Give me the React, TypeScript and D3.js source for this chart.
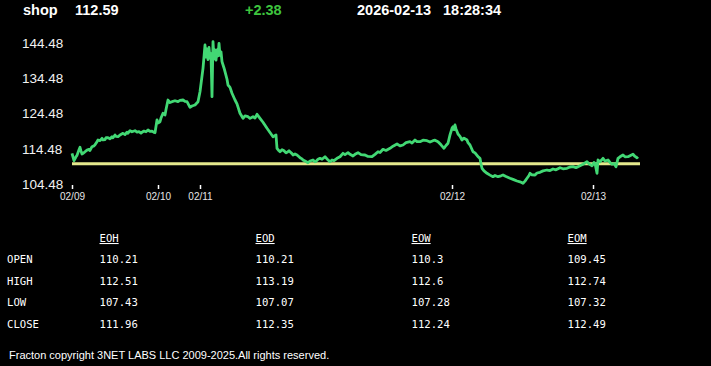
import React, { useRef, useEffect } from "react";
import * as d3 from "d3";

// header quote
const symbol = "shop";
const lastPrice = "112.59";
const change = "+2.38";
const quoteDate = "2026-02-13";
const quoteTime = "18:28:34";

// price trace: [sample index over the session, price]
const trace: [number, number][] = [
	[0, 113.19], [2, 111.09], [4, 112.2], [5, 112.6], [7, 114.2], [8, 114.89], [9, 113.8], [10, 112.99],
	[12, 113.4], [13, 113.64], [15, 114.1], [17, 114.3], [18, 114.0], [20, 115.06], [22, 115.3], [23, 115.6],
	[25, 116.5], [26, 116.96], [28, 116.8], [30, 117.44], [31, 117.0], [33, 117.1], [34, 117.6], [36, 117.61],
	[38, 117.3], [40, 117.9], [41, 117.6], [43, 118.38], [44, 118.0], [46, 117.9], [48, 118.4], [51, 118.86],
	[53, 118.5], [55, 119.2], [56, 118.9], [58, 119.6], [60, 119.3], [63, 119.6], [65, 119.2], [67, 119.35],
	[69, 118.9], [70, 119.15], [72, 119.5], [74, 119.3], [76, 119.8], [78, 119.4], [80, 119.5], [82, 119.1],
	[83, 119.03], [85, 122.64], [86, 121.8], [88, 122.15], [89, 123.2], [91, 124.54], [93, 124.05],
	[94, 125.6], [96, 128.31], [98, 127.6], [100, 127.83], [103, 128.1], [106, 127.83], [108, 128.2],
	[111, 128.31], [113, 127.9], [115, 127.83], [118, 126.24], [120, 126.6], [123, 126.89], [126, 127.83],
	[128, 130.66], [131, 137.3], [133, 143.91], [134, 140.5], [135, 142.8], [136, 139.8], [137, 143.2],
	[138, 140.2], [139, 141.5], [140, 129.25], [141, 144.85], [142, 140.0], [143, 142.5], [144, 139.6],
	[145, 142.5], [146, 140.8], [147, 144.39], [148, 141.0], [149, 142.0], [150, 139.18], [152, 137.4],
	[153, 136.34], [155, 134.2], [156, 132.57], [158, 131.9], [160, 130.21], [163, 128.31], [165, 127.2],
	[168, 124.54], [171, 123.12], [173, 123.8], [176, 123.57], [178, 123.1], [181, 123.57], [183, 123.2],
	[185, 124.25], [188, 123.12], [191, 122.0], [195, 120.28], [198, 119.1], [201, 117.9], [204, 118.38],
	[205, 114.61], [207, 113.9], [208, 113.64], [210, 114.2], [212, 113.9], [214, 113.3], [215, 113.47],
	[217, 113.9], [218, 113.64], [220, 113.1], [221, 112.71], [223, 113.0], [225, 112.71], [227, 112.2],
	[228, 111.94], [230, 111.6], [231, 111.29], [233, 111.0], [236, 110.52], [238, 111.0], [241, 111.29],
	[243, 110.8], [244, 110.9], [246, 111.5], [248, 111.77], [250, 111.5], [253, 112.22], [255, 111.6],
	[258, 110.81], [260, 111.3], [262, 111.1], [265, 111.77], [268, 112.2], [271, 113.19], [273, 112.8],
	[276, 113.36], [278, 112.9], [281, 112.42], [283, 112.9], [286, 113.36], [289, 112.8], [293, 112.71],
	[296, 112.3], [300, 112.22], [303, 112.9], [306, 113.64], [308, 113.4], [311, 114.32], [314, 114.0],
	[318, 114.61], [321, 115.2], [325, 115.83], [328, 115.3], [331, 115.54], [334, 116.2], [338, 116.48],
	[340, 116.1], [343, 116.96], [345, 116.5], [348, 116.48], [351, 116.9], [355, 116.76], [358, 116.4],
	[361, 116.76], [363, 116.9], [366, 116.48], [369, 115.6], [372, 114.61], [374, 115.4], [376, 116.03],
	[378, 118.4], [380, 120.28], [381, 120.74], [382, 119.9], [383, 121.22], [384, 120.1], [386, 118.66],
	[388, 118.0], [390, 116.96], [392, 117.5], [395, 116.96], [396, 116.2], [398, 115.54], [401, 113.64],
	[403, 113.3], [406, 112.22], [408, 111.77], [409, 110.2], [410, 108.93], [412, 108.2], [415, 107.52],
	[418, 107.0], [421, 106.55], [423, 106.9], [426, 106.55], [429, 106.8], [431, 107.03], [434, 106.6],
	[438, 106.1], [441, 105.8], [445, 105.33], [448, 105.1], [451, 104.68], [453, 105.3], [455, 106.1],
	[457, 106.9], [458, 107.52], [460, 107.1], [463, 107.03], [465, 107.6], [468, 107.8], [471, 108.2],
	[475, 108.45], [478, 108.3], [481, 108.74], [484, 108.5], [488, 109.1], [491, 108.8], [495, 108.93],
	[498, 109.3], [501, 109.39], [504, 109.1], [508, 109.67], [511, 110.1], [515, 110.81], [517, 110.2],
	[520, 109.67], [522, 110.6], [523, 110.35], [525, 107.52], [526, 111.29], [528, 110.8], [531, 111.77],
	[533, 111.0], [536, 111.29], [538, 110.6], [540, 110.07], [542, 110.3], [544, 109.39], [546, 111.77],
	[548, 112.2], [551, 112.71], [553, 112.2], [556, 112.22], [558, 112.5], [561, 112.91], [563, 112.3],
	[565, 111.94], [566, 112.22]
];

const baseline = 110.21;
const yTicks = [104.48, 114.48, 124.48, 134.48, 144.48];
const dayTicks = [0, 86, 128, 380, 521];
const dayLabels = ["02/09", "02/10", "02/11", "02/12", "02/13"];

// summary table
const columns = ["EOH", "EOD", "EOW", "EOM"];
const rowNames = ["OPEN", "HIGH", "LOW", "CLOSE"];
const eoh = ["110.21", "112.51", "107.43", "111.96"];
const eod = ["110.21", "113.19", "107.07", "112.35"];
const eow = ["110.3", "112.6", "107.28", "112.24"];
const eom = ["109.45", "112.74", "107.32", "112.49"];

const footer = "Fracton copyright 3NET LABS LLC 2009-2025.All rights reserved.";

const App = () => {
	const chartRef = useRef<SVGSVGElement>(null);

	useEffect(() => {
		document.body.style.margin = "0";
		document.body.style.background = "#000";

		const width = 711;
		const height = 366;
		const svg = d3.select(chartRef.current);
		svg.selectAll("*").remove();
		svg.attr("width", width).attr("height", height);

		svg.append("rect").attr("width", width).attr("height", height).attr("fill", "#000");

		// header
		const head = svg.append("g")
			.attr("font-family", "Liberation Sans, Arial, sans-serif")
			.attr("font-weight", "bold")
			.attr("font-size", 14.5)
			.attr("fill", "#fff");
		head.append("text").attr("x", 23).attr("y", 15).text(symbol);
		head.append("text").attr("x", 75).attr("y", 15).text(lastPrice);
		head.append("text").attr("x", 245).attr("y", 15).attr("fill", "#3ec43e").text(change);
		head.append("text").attr("x", 357).attr("y", 15).text(quoteDate);
		head.append("text").attr("x", 443).attr("y", 15).text(quoteTime);

		const x = d3.scaleLinear().domain([0, 568]).range([72, 640]);
		const y = d3.scaleLinear().domain([104.48, 144.48]).range([184, 43]);

		// y labels
		svg.append("g")
			.selectAll("text")
			.data(yTicks)
			.enter()
			.append("text")
			.attr("x", 22)
			.attr("y", d => y(d))
			.attr("dy", "0.36em")
			.attr("font-family", "Liberation Sans, Arial, sans-serif")
			.attr("font-size", 13.5)
			.attr("fill", "#f2f2f2")
			.text(d => d.toFixed(2));

		// x axis
		const xAxis = d3.axisBottom(x)
			.tickValues(dayTicks)
			.tickSize(4)
			.tickFormat((d, i) => dayLabels[i]);
		const gx = svg.append("g")
			.attr("transform", "translate(0,185)")
			.call(xAxis);
		gx.select(".domain").remove();
		gx.selectAll(".tick line").attr("stroke", "#fff").attr("stroke-width", 1.5);
		gx.selectAll(".tick text")
			.attr("fill", "#e6e6e6")
			.attr("y", 8)
			.attr("font-family", "Liberation Sans, Arial, sans-serif")
			.attr("font-size", 10);

		// baseline
		svg.append("line")
			.attr("x1", x(0))
			.attr("x2", x(568))
			.attr("y1", y(baseline))
			.attr("y2", y(baseline))
			.attr("stroke", "#e4e88c")
			.attr("stroke-width", 3);

		// price line
		const line = d3.line<[number, number]>()
			.x(d => x(d[0]))
			.y(d => y(d[1]));
		svg.append("path")
			.datum(trace)
			.attr("d", line)
			.attr("fill", "none")
			.attr("stroke", "#42d874")
			.attr("stroke-width", 2.8)
			.attr("stroke-linejoin", "round");

		// table
		const tbl = svg.append("g")
			.attr("font-family", "DejaVu Sans Mono, monospace")
			.attr("font-size", 10.6)
			.attr("fill", "#fff");
		const colX = d3.scaleLinear().domain([0, 1]).range([99.5, 255.5]);
		const rowY = d3.scaleLinear().domain([0, 1]).range([263, 284.7]);
		const colData = [eoh, eod, eow, eom];

		columns.forEach((c, ci) => {
			tbl.append("text")
				.attr("x", colX(ci))
				.attr("y", 242)
				.attr("text-decoration", "underline")
				.text(c);
			colData[ci].forEach((v, ri) => {
				tbl.append("text").attr("x", colX(ci)).attr("y", rowY(ri)).text(v);
			});
		});
		rowNames.forEach((r, ri) => {
			tbl.append("text").attr("x", 7).attr("y", rowY(ri)).text(r);
		});

		svg.append("text")
			.attr("x", 9)
			.attr("y", 359)
			.attr("font-family", "Liberation Sans, Arial, sans-serif")
			.attr("font-size", 11)
			.attr("fill", "#fff")
			.text(footer);
	}, []);

	return (
		<div style={{ position: "absolute", left: 0, top: 0 }}>
			<svg ref={chartRef}></svg>
		</div>
	);
};

export default App;
